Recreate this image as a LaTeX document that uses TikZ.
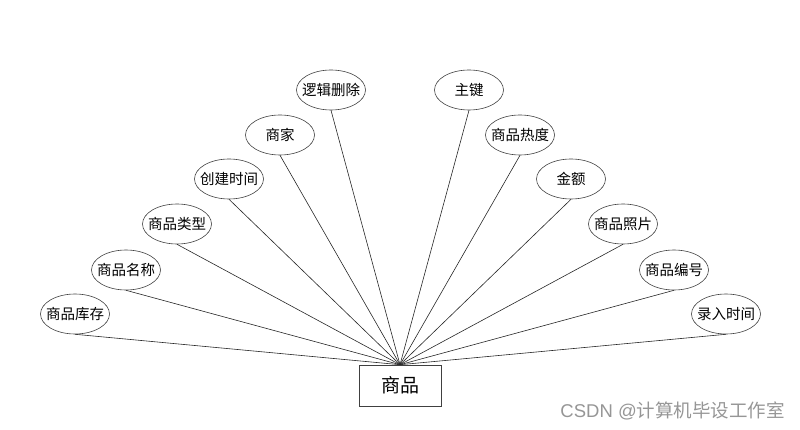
\documentclass[tikz,border=0pt]{standalone}
\usepackage{fontspec}
\setmainfont{Noto Sans CJK SC}
\newfontfamily\latinfont{Liberation Sans}
\usepackage{tikz}
\usetikzlibrary{shapes}
\usetikzlibrary{positioning}
\definecolor{wmgray}{RGB}{150,150,150}

\begin{document}
\begin{tikzpicture}[x=1pt,y=-1pt]

		\tikzset{line/.style={draw,line width=0.6pt,black!85}}
		\tikzset{attr/.style={shape=ellipse,draw,line width=0.6pt,black!75,text=black,inner xsep=-5pt,inner ysep=0pt,minimum width=69pt,minimum height=40pt,font=\fontsize{14.5}{16}\selectfont}}
		\tikzset{entity/.style={rectangle,draw,line width=0.6pt,black!75,text=black,inner sep=0pt,minimum width=82pt,minimum height=41pt,font=\fontsize{19}{22}\selectfont}}

		\useasboundingbox (0,0) rectangle (800,430);

		\node[entity] (sp) at (400,385.5) {商品};

		% left half
		\node[attr] (kucun) at (75,314) {商品库存};
		\node[attr] (mingcheng) at (126,270) {商品名称};
		\node[attr] (leixing) at (177,224) {商品类型};
		\node[attr] (chuangjian) at (229,179) {创建时间};
		\node[attr] (shangjia) at (280,135) {商家};
		\node[attr] (shanchu) at (331,90) {逻辑删除};

		% right half
		\node[attr] (zhujian) at (469,90) {主键};
		\node[attr] (redu) at (520,135) {商品热度};
		\node[attr] (jine) at (571,179) {金额};
		\node[attr] (zhaopian) at (623,224) {商品照片};
		\node[attr] (bianhao) at (674,270) {商品编号};
		\node[attr] (luru) at (726,314) {录入时间};

		\path[line] (kucun.south) to (sp.north);
		\path[line] (mingcheng.south) to (sp.north);
		\path[line] (leixing.south) to (sp.north);
		\path[line] (chuangjian.south) to (sp.north);
		\path[line] (shangjia.south) to (sp.north);
		\path[line] (shanchu.south) to (sp.north);
		\path[line] (zhujian.south) to (sp.north);
		\path[line] (redu.south) to (sp.north);
		\path[line] (jine.south) to (sp.north);
		\path[line] (zhaopian.south) to (sp.north);
		\path[line] (bianhao.south) to (sp.north);
		\path[line] (luru.south) to (sp.north);

		\node[anchor=base east,wmgray,inner sep=0pt,font=\fontsize{18.5}{20}\selectfont] (wm) at (785,417) {{\latinfont CSDN @}计算机毕设工作室};

	\end{tikzpicture}
\end{document}
